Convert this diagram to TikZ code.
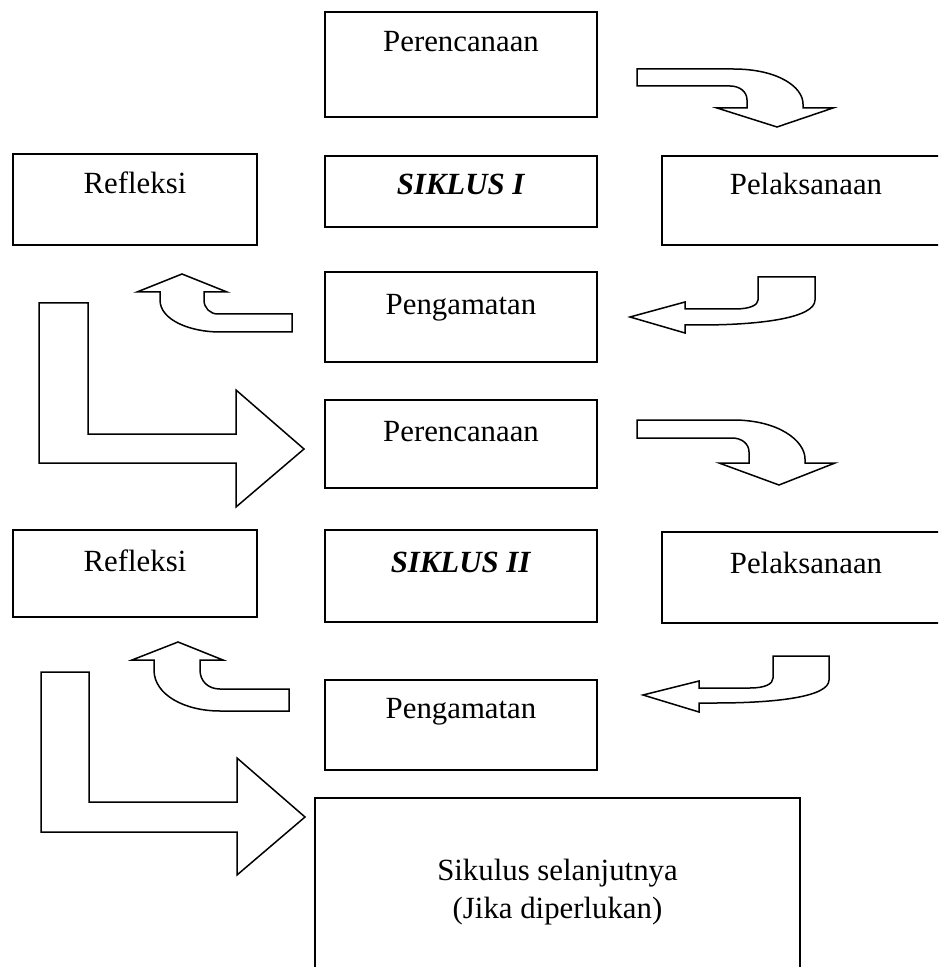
\documentclass[tikz,border=0pt]{standalone}
\usepackage{fontspec}
\setmainfont{Liberation Serif}
\usetikzlibrary{fit}
\begin{document}
\begin{tikzpicture}[x=0.5pt,y=-0.5pt,
  box/.style={draw=black, line width=0.7pt, inner sep=0pt, rectangle},
  lbl/.style={inner sep=0pt, anchor=base, font=\fontsize{15.4}{20}\selectfont},
  blockarrow/.style={draw=black, line width=0.75pt, fill=white, line join=miter}]
\clip (0,0) rectangle (938,967);
\fill[white] (0,0) rectangle (938,967);
% boxes
\node[box, fit={(325,12) (597,117)}] (per1) {};
\node[box, fit={(13,154) (257,245)}] (ref1) {};
\node[box, fit={(325,156) (597,227)}] (sik1) {};
\node[box, fit={(662,156) (950,245)}] (pel1) {};
\node[box, fit={(325,272) (597,362)}] (pen1) {};
\node[box, fit={(325,400) (597,488)}] (per2) {};
\node[box, fit={(13,530) (257,617)}] (ref2) {};
\node[box, fit={(325,530) (597,622)}] (sik2) {};
\node[box, fit={(662,532) (950,623)}] (pel2) {};
\node[box, fit={(325,680) (597,770)}] (pen2) {};
\node[box, fit={(315,798) (800,990)}] (next) {};
% labels
\node[lbl] (tper1) at (461,52) {Perencanaan};
\node[lbl] (tref1) at (135,194) {Refleksi};
\node[lbl] (tsik1) at (461,195) {\textbf{\textit{SIKLUS I}}};
\node[lbl] (tpel1) at (806,195) {Pelaksanaan};
\node[lbl] (tpen1) at (461,315) {Pengamatan};
\node[lbl] (tper2) at (461,441) {Perencanaan};
\node[lbl] (tref2) at (135,571) {Refleksi};
\node[lbl] (tsik2) at (461,572) {\textbf{\textit{SIKLUS II}}};
\node[lbl] (tpel2) at (806,573) {Pelaksanaan};
\node[lbl] (tpen2) at (461,718) {Pengamatan};
\node[lbl] (tnext1) at (557.5,880) {Sikulus selanjutnya};
\node[lbl] (tnext2) at (557.5,918) {(Jika diperlukan)};
% curved right-down arrows
\draw[blockarrow] (637,69) -- (733,69) .. controls (778,69) and (803,87) .. (803,104)
  -- (803,108) -- (833,108) -- (777,127) -- (717,108) -- (747,108) -- (747,100)
  .. controls (747,92) and (740,86) .. (730,86) -- (637,86) -- cycle;
\draw[blockarrow] (637,420) -- (733,420) .. controls (779,420) and (805,441) .. (805,459)
  -- (805,463) -- (835,463) -- (779,485) -- (719,463) -- (749,463) -- (749,452)
  .. controls (749,444) and (742,438) .. (732,438) -- (637,438) -- cycle;
% left-pointing arrows
\draw[blockarrow] (630,317) -- (685,302) -- (685,309) -- (735,309)
  .. controls (750,309) and (758,305) .. (758,300) -- (758,277) -- (815,277) -- (815,300)
  .. controls (815,318) and (760,325) .. (700,325) -- (685,325) -- (685,333) -- cycle;
\draw[blockarrow] (643,695) -- (699,681) -- (699,688) -- (750,688)
  .. controls (765,688) and (773,684) .. (773,678) -- (773,656) -- (829,656) -- (829,680)
  .. controls (829,697) and (775,703) .. (715,703) -- (699,703) -- (699,712) -- cycle;
% up-curved arrows
\draw[blockarrow] (160,292) -- (160,300) .. controls (160,320) and (190,332) .. (220,332)
  -- (292,332) -- (292,314) -- (218,314) .. controls (210,314) and (204,308) .. (204,300)
  -- (204,292) -- (227,292) -- (182,274) -- (137,292) -- cycle;
\draw[blockarrow] (154,660) -- (154,670) .. controls (154,695) and (185,711) .. (220,711)
  -- (289,711) -- (289,689) -- (220,689) .. controls (208,689) and (200,681) .. (200,670)
  -- (200,660) -- (223,660) -- (178,642) -- (132,660) -- cycle;
% L-shaped arrows
\draw[blockarrow] (39,303) -- (88,303) -- (88,434) -- (236,434) -- (236,390) -- (304,449)
  -- (236,507) -- (236,463) -- (39,463) -- cycle;
\draw[blockarrow] (41,672) -- (89,672) -- (89,802) -- (237,802) -- (237,758) -- (305,817)
  -- (237,875) -- (237,832) -- (41,832) -- cycle;
\end{tikzpicture}
\end{document}
